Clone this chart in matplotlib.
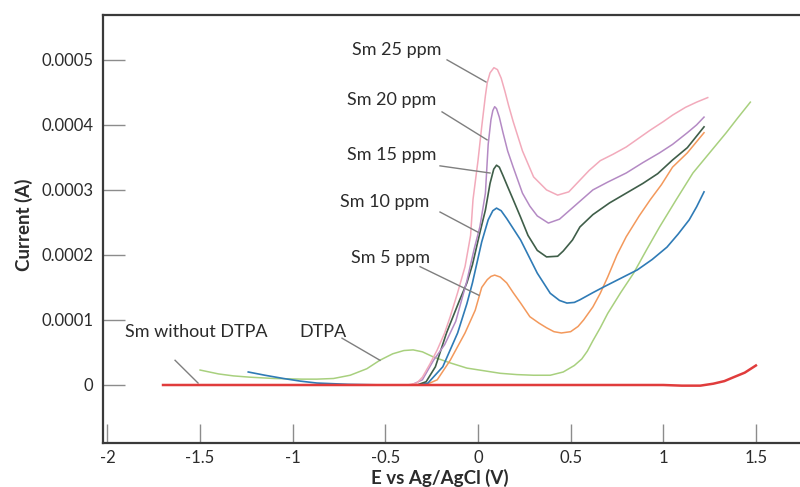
import numpy as np
import matplotlib
matplotlib.use("Agg")
import matplotlib.pyplot as plt

plt.rcParams['font.family'] = ['Lato', 'DejaVu Sans']

# ---------------- data (current in units of 1e-4 A) ----------------
sm25_v = [-1.2, -0.6, -0.38, -0.33, -0.3, -0.26, -0.22, -0.18, -0.15, -0.11,
          -0.07, -0.04, -0.027, 0.0, 0.02, 0.04, 0.05, 0.065, 0.086, 0.105,
          0.125, 0.145, 0.165, 0.19, 0.24, 0.3, 0.37, 0.43, 0.49, 0.55,
          0.6, 0.66, 0.73, 0.8, 0.87, 0.93, 1.0, 1.05, 1.12, 1.18, 1.24]
sm25_i = [0, 0, 0, 0.03, 0.12, 0.32, 0.54, 0.8, 1.05, 1.42,
          1.82, 2.3, 2.85, 3.45, 3.97, 4.45, 4.65, 4.8, 4.88, 4.85,
          4.72, 4.52, 4.3, 4.05, 3.6, 3.2, 3.0, 2.92, 2.97, 3.15,
          3.3, 3.45, 3.55, 3.66, 3.8, 3.92, 4.05, 4.15, 4.27, 4.35, 4.42]

sm20_v = [-1.2, -0.6, -0.36, -0.3, -0.24, -0.18, -0.12, -0.06, -0.02, 0.01,
          0.04, 0.055, 0.07, 0.08, 0.09, 0.1, 0.115, 0.135, 0.16, 0.19,
          0.24, 0.28, 0.32, 0.38, 0.44, 0.5, 0.56, 0.62, 0.7, 0.8,
          0.89, 0.98, 1.05, 1.13, 1.18, 1.22]
sm20_i = [0, 0, 0, 0.08, 0.38, 0.62, 0.98, 1.6, 2.1, 2.43,
          2.95, 3.7, 4.08, 4.22, 4.28, 4.25, 4.12, 3.88, 3.6, 3.35,
          2.95, 2.75, 2.6, 2.49, 2.55, 2.7, 2.85, 3.0, 3.12, 3.26,
          3.42, 3.57, 3.7, 3.88, 4.0, 4.12]

sm15_v = [-1.2, -0.6, -0.33, -0.28, -0.23, -0.17, -0.1, -0.06, -0.03, 0.01,
          0.04, 0.065, 0.085, 0.1, 0.115, 0.135, 0.16, 0.19, 0.23, 0.27,
          0.32, 0.37, 0.43, 0.46, 0.51, 0.55, 0.62, 0.71, 0.8, 0.89,
          0.97, 1.05, 1.13, 1.22]
sm15_i = [0, 0, 0, 0.05, 0.28, 0.8, 1.3, 1.57, 1.85, 2.34,
          2.69, 3.1, 3.32, 3.38, 3.35, 3.22, 3.05, 2.85, 2.58, 2.3,
          2.07, 1.97, 1.98, 2.06, 2.23, 2.43, 2.62, 2.8, 2.95, 3.1,
          3.25, 3.46, 3.65, 3.97]

sm10_v = [-1.24, -1.15, -1.05, -0.96, -0.87, -0.7, -0.5, -0.32, -0.27, -0.19,
          -0.11, -0.06, -0.03, 0.02, 0.055, 0.08, 0.1, 0.125, 0.155, 0.23,
          0.32, 0.39, 0.44, 0.48, 0.52, 0.55, 0.62, 0.68, 0.77, 0.86,
          0.94, 1.02, 1.08, 1.14, 1.18, 1.22]
sm10_i = [0.2, 0.15, 0.1, 0.06, 0.03, 0.01, 0.0, 0.0, 0.03, 0.28,
          0.8, 1.25, 1.57, 2.2, 2.54, 2.68, 2.72, 2.68, 2.56, 2.23,
          1.72, 1.41, 1.3, 1.26, 1.27, 1.31, 1.42, 1.51, 1.64, 1.77,
          1.93, 2.12, 2.32, 2.54, 2.74, 2.97]

sm5_v = [-1.2, -0.6, -0.3, -0.26, -0.22, -0.15, -0.07, -0.015, 0.02, 0.05,
         0.07, 0.09, 0.12, 0.155, 0.19, 0.23, 0.28, 0.33, 0.37, 0.41,
         0.45, 0.5, 0.54, 0.57, 0.62, 0.66, 0.7, 0.75, 0.8, 0.87,
         0.93, 0.99, 1.05, 1.13, 1.22]
sm5_i = [0, 0, 0, 0.03, 0.08, 0.38, 0.8, 1.15, 1.5, 1.62,
         1.67, 1.69, 1.66, 1.57, 1.42, 1.26, 1.05, 0.95, 0.88, 0.82,
         0.8, 0.82, 0.9, 1.0, 1.2, 1.41, 1.66, 2.0, 2.28, 2.6,
         2.85, 3.08, 3.35, 3.57, 3.88]

dtpa_v = [-1.5, -1.4, -1.32, -1.23, -1.1, -0.95, -0.87, -0.78, -0.69, -0.6,
          -0.53, -0.46, -0.4, -0.35, -0.3, -0.24, -0.15, -0.06, 0.03, 0.12,
          0.21, 0.3, 0.39, 0.46, 0.52, 0.56, 0.59, 0.62, 0.66, 0.7,
          0.77, 0.84, 0.91, 0.98, 1.07, 1.16, 1.25, 1.34, 1.4, 1.47]
dtpa_i = [0.23, 0.17, 0.14, 0.12, 0.1, 0.09, 0.09, 0.1, 0.15, 0.25,
          0.38, 0.48, 0.53, 0.54, 0.51, 0.43, 0.34, 0.26, 0.22, 0.18,
          0.16, 0.15, 0.15, 0.2, 0.3, 0.4, 0.52, 0.68, 0.88, 1.1,
          1.42, 1.72, 2.08, 2.43, 2.85, 3.26, 3.57, 3.88, 4.1, 4.35]

smfree_v = [-1.7, -1.0, 0.0, 0.5, 1.0, 1.1, 1.2, 1.27, 1.33, 1.38, 1.44, 1.5]
smfree_i = [0, 0, 0, 0, 0, -0.01, -0.01, 0.02, 0.06, 0.12, 0.19, 0.3]

x_ticks = [-2, -1.5, -1, -0.5, 0, 0.5, 1, 1.5]
x_tick_labels = ['-2', '-1.5', '-1', '-0.5', '0', '0.5', '1', '1.5']
y_ticks = [0, 0.0001, 0.0002, 0.0003, 0.0004, 0.0005]
y_tick_labels = ['0', '0.0001', '0.0002', '0.0003', '0.0004', '0.0005']

labels = ['Sm 25 ppm', 'Sm 20 ppm', 'Sm 15 ppm', 'Sm 10 ppm', 'Sm 5 ppm',
          'DTPA', 'Sm without DTPA']
# text centre (V, 1e-4 A), leader start, leader end
label_pos = [(-0.437, 5.15), (-0.464, 4.38), (-0.464, 3.54), (-0.502, 2.82),
             (-0.47, 1.95), (-0.836, 0.82), (-1.522, 0.82)]
leader_start = [(-0.167, 5.0), (-0.194, 4.2), (-0.205, 3.37), (-0.205, 2.66),
                (-0.313, 1.82), (-0.734, 0.72), (-1.635, 0.38)]
leader_end = [(0.043, 4.66), (0.049, 3.77), (0.065, 3.26), (0.0, 2.35),
              (0.005, 1.38), (-0.529, 0.38), (-1.511, 0.03)]

# ---------------- figure ----------------
fig = plt.figure(figsize=(8.0, 4.87), dpi=100)
ax = fig.add_axes([103 / 800, 44 / 487, 697 / 800, 428 / 487])

E4 = 1e-4
series = [
    (dtpa_v, dtpa_i, '#a8d07e', 1.1),
    (sm5_v, sm5_i, '#f3995c', 1.1),
    (sm10_v, sm10_i, '#2f7bb6', 1.2),
    (sm15_v, sm15_i, '#3f5e49', 1.2),
    (sm20_v, sm20_i, '#b48ac4', 1.1),
    (sm25_v, sm25_i, '#f2aabb', 1.1),
]
for v, i, c, lw in series:
    ax.plot(v, np.array(i) * E4, color=c, lw=lw, solid_joinstyle='round')
ax.plot(smfree_v, np.array(smfree_i) * E4, color='#e03c3c', lw=1.8, zorder=5)

for txt, p, s, e in zip(labels, label_pos, leader_start, leader_end):
    ax.text(p[0], p[1] * E4, txt, ha='center', va='center', fontsize=13,
            color='#2b2b2b')
    ax.plot([s[0], e[0]], [s[1] * E4, e[1] * E4], color='#7f7f7f', lw=1.0)

ax.set_xlim(-2.024, 1.738)
ax.set_ylim(-0.892e-4, 5.69e-4)
ax.set_xticks(x_ticks)
ax.set_xticklabels(x_tick_labels)
ax.set_yticks(y_ticks)
ax.set_yticklabels(y_tick_labels)
ax.tick_params(axis='x', direction='in', length=14, width=1.0, color='#8c8c8c',
               labelsize=12, pad=5, labelcolor='#2b2b2b')
ax.tick_params(axis='y', direction='in', length=16, width=1.0, color='#8c8c8c',
               labelsize=12, pad=7, labelcolor='#2b2b2b')

for side in ['left', 'top', 'bottom']:
    ax.spines[side].set_color('#3a3a3a')
    ax.spines[side].set_linewidth(1.6)
ax.spines['right'].set_visible(False)

ax.set_ylabel('Current (A)', fontsize=13.5, fontweight='bold', color='#2b2b2b')
ax.yaxis.set_label_coords(-0.1, 0.509)
ax.set_xlabel('E vs Ag/AgCl (V)', fontsize=13.5, fontweight='bold',
              color='#2b2b2b')
ax.xaxis.set_label_coords(0.4835, -0.06)

fig.savefig('out.png', dpi=100)
